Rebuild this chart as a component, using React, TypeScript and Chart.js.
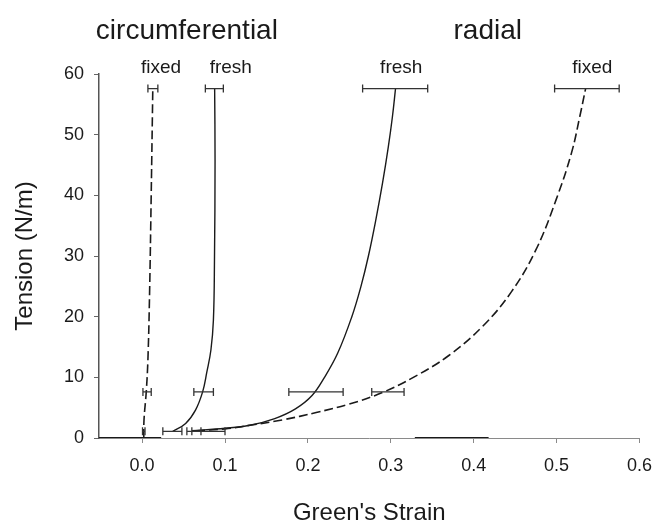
import React, { useEffect, useRef } from "react";
import { Chart, registerables } from "chart.js";

Chart.register(...registerables);

// ---- data ----
const X_TICKS = [0, 0.1, 0.2, 0.3, 0.4, 0.5, 0.6];
const Y_TICKS = [0, 10, 20, 30, 40, 50, 60];

// circumferential, fixed (dashed)
const circFixedX = [0.002, 0.0023, 0.005, 0.007, 0.009, 0.011, 0.0129];
const circFixedY = [0, 3.0, 7.6, 12.9, 23.8, 40.3, 57.6];
// circumferential, fresh (solid)
const circFreshX = [0.037, 0.0525, 0.0644, 0.073, 0.078, 0.083, 0.086, 0.0873, 0.088, 0.0875];
const circFreshY = [1.1, 2.4, 4.6, 7.6, 10.8, 14.5, 19.4, 29.3, 45.8, 57.6];
// radial, fresh (solid)
const radFreshX = [0.06, 0.1, 0.13, 0.16, 0.185, 0.205, 0.22, 0.236, 0.253, 0.264, 0.273, 0.282, 0.29, 0.297, 0.302, 0.3057];
const radFreshY = [1.2, 1.6, 2.1, 3.2, 4.8, 7.0, 10.0, 14.0, 20.0, 25.0, 30.0, 36.0, 42.0, 48.0, 53.0, 57.6];
// radial, fixed (dashed)
const radFixedX = [0.065, 0.1, 0.13, 0.17, 0.21, 0.25, 0.29, 0.33, 0.37, 0.41, 0.445, 0.475, 0.5, 0.518, 0.528, 0.535];
const radFixedY = [1.2, 1.5, 2.1, 3.0, 4.2, 5.6, 7.5, 10.2, 13.6, 18.3, 24.0, 31.0, 39.5, 47.0, 53.0, 57.6];

// baseline traces along zero tension
const baseAX = [-0.052, 0.023];
const baseBX = [0.329, 0.418];
const baseY = [0, 0];

// error bars: tension, low strain, high strain
const errTension = [57.6, 7.6, 1.1];
const circFixedLo = [0.007, 0.001, 0.0005];
const circFixedHi = [0.019, 0.011, 0.0035];
const circFreshLo = [0.0763, 0.0624, 0.025];
const circFreshHi = [0.098, 0.086, 0.048];
const radFreshLo = [0.266, 0.177, 0.054];
const radFreshHi = [0.3445, 0.2425, 0.071];
const radFixedLo = [0.4976, 0.277, 0.06];
const radFixedHi = [0.5755, 0.316, 0.1];

// text annotations (strain, tension)
const labelText = ["fixed", "fresh", "fresh", "fixed"];
const labelX = [0.0229, 0.107, 0.3126, 0.543];
const labelY = [61.0, 61.0, 61.0, 61.0];
const headText = ["circumferential", "radial"];
const headX = [0.054, 0.417];
const headY = [67.0, 67.0];

const FONT = "'Liberation Sans', Arial, Helvetica, sans-serif";
const INK = "#1a1a1a";

const pts = (xs: number[], ys: number[]) => xs.map((x, i) => ({ x, y: ys[i] }));

const overlay = {
  id: "overlay",
  afterDatasetsDraw(chart: any) {
    const { ctx } = chart;
    const xs = chart.scales.x;
    const ys = chart.scales.y;
    const groups = [
      [circFixedLo, circFixedHi],
      [circFreshLo, circFreshHi],
      [radFreshLo, radFreshHi],
      [radFixedLo, radFixedHi],
    ];
    ctx.save();
    ctx.strokeStyle = "#333";
    ctx.lineWidth = 1.3;
    groups.forEach(([lo, hi]) => {
      errTension.forEach((t, i) => {
        const py = ys.getPixelForValue(t);
        const x1 = xs.getPixelForValue(lo[i]);
        const x2 = xs.getPixelForValue(hi[i]);
        ctx.beginPath();
        ctx.moveTo(x1, py);
        ctx.lineTo(x2, py);
        ctx.moveTo(x1, py - 4);
        ctx.lineTo(x1, py + 4);
        ctx.moveTo(x2, py - 4);
        ctx.lineTo(x2, py + 4);
        ctx.stroke();
      });
    });
    ctx.restore();
  },
  afterDraw(chart: any) {
    const { ctx } = chart;
    const xs = chart.scales.x;
    const ys = chart.scales.y;
    ctx.save();
    ctx.fillStyle = INK;
    ctx.textAlign = "center";
    ctx.textBaseline = "middle";
    ctx.font = `19px ${FONT}`;
    labelText.forEach((t, i) => {
      ctx.fillText(t, xs.getPixelForValue(labelX[i]), ys.getPixelForValue(labelY[i]));
    });
    ctx.font = `28px ${FONT}`;
    headText.forEach((t, i) => {
      ctx.fillText(t, xs.getPixelForValue(headX[i]), ys.getPixelForValue(headY[i]));
    });
    ctx.restore();
  },
};

export default function App() {
  const ref = useRef<HTMLCanvasElement>(null);

  useEffect(() => {
    if (!ref.current) return;
    const line = (data: any[], dashed: boolean, width = 1.4) => ({
      data,
      showLine: true,
      borderColor: INK,
      borderWidth: width,
      borderDash: dashed ? [9, 4] : [],
      pointRadius: 0,
      tension: 0.4,
      fill: false,
    });
    const chart = new Chart(ref.current, {
      type: "scatter",
      data: {
        datasets: [
          line(pts(circFixedX, circFixedY), true, 1.6),
          line(pts(circFreshX, circFreshY), false),
          line(pts(radFreshX, radFreshY), false),
          line(pts(radFixedX, radFixedY), true, 1.6),
          { ...line(pts(baseAX, baseY), false, 2.2), tension: 0 },
          { ...line(pts(baseBX, baseY), false, 2.2), tension: 0 },
        ] as any,
      },
      options: {
        responsive: false,
        animation: false,
        events: [],
        layout: { padding: { top: 74, right: 16, left: 0, bottom: 0 } },
        plugins: { legend: { display: false }, tooltip: { enabled: false } },
        scales: {
          x: {
            type: "linear",
            min: -0.052,
            max: 0.6,
            afterBuildTicks: (s: any) => {
              s.ticks = X_TICKS.map((v) => ({ value: v }));
            },
            afterFit: (s: any) => {
              s.height = 87;
            },
            border: { display: true, color: "#8a8a8a", width: 1 },
            grid: { drawOnChartArea: false, drawTicks: true, tickLength: 5, color: "#8a8a8a" },
            ticks: {
              padding: 12,
              color: INK,
              font: { family: FONT, size: 18 },
              callback: (v: any) => Number(v).toFixed(1),
            },
            title: {
              display: true,
              text: "Green's Strain",
              color: INK,
              font: { family: FONT, size: 24, lineHeight: 1 },
              padding: 0,
            },
          },
          y: {
            type: "linear",
            min: 0,
            max: 60,
            afterBuildTicks: (s: any) => {
              s.ticks = Y_TICKS.map((v) => ({ value: v }));
            },
            afterFit: (s: any) => {
              s.width = 99;
            },
            border: { display: true, color: "#555", width: 1.5 },
            grid: { drawOnChartArea: false, drawTicks: true, tickLength: 5, color: "#666" },
            ticks: {
              padding: 10,
              color: INK,
              font: { family: FONT, size: 18 },
              callback: (v: any) => String(v),
            },
            title: {
              display: true,
              text: "Tension (N/m)",
              color: INK,
              font: { family: FONT, size: 24, lineHeight: 1 },
              padding: 13,
            },
          },
        },
      },
      plugins: [overlay],
    });
    return () => chart.destroy();
  }, []);

  return (
    <div style={{ position: "fixed", left: 0, top: 0, width: 664, height: 525, background: "#fff" }}>
      <canvas ref={ref} width={664} height={525} style={{ width: 664, height: 525, display: "block" }} />
    </div>
  );
}
